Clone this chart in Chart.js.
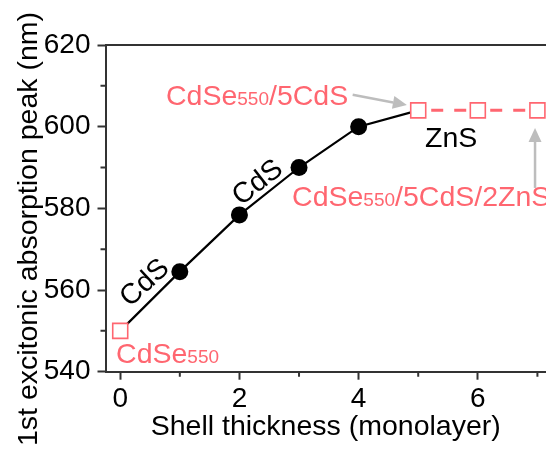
<!DOCTYPE html>
<html lang="en">
<head>
    <meta charset="UTF-8">
    <title>Absorption peak vs shell thickness</title>
    <style>
        body {
            margin: 0;
            overflow: hidden;
            background: #fff;
        }
        #wrap {
            width: 546px;
            height: 450px;
        }
    </style>
</head>
<body>
<div id="wrap"><canvas id="chart" width="546" height="450"></canvas></div>
<script src="https://cdn.jsdelivr.net/npm/chart.js@4"></script>
<script>
    // shell thickness (monolayers) and 1st excitonic absorption peak (nm)
    const shellML = [0, 1, 2, 3, 4, 5, 6, 7];
    const peakNm = [550, 564.5, 578.4, 590, 600, 604, 604, 604];
    const shellType = ['core', 'CdS', 'CdS', 'CdS', 'CdS', 'CdS', 'ZnS', 'ZnS'];
    const openMarker = [true, false, false, false, false, true, true, true];

    const xMajor = [0, 2, 4, 6];
    const xMinor = [1, 3, 5, 7];
    const yMajor = [540, 560, 580, 600, 620];
    const yMinor = [550, 570, 590, 610];

    const RED = '#ff6670';
    const AXIS = '#333';
    const GREY = '#bdbdbd';
    const FAMILY = '"Liberation Sans", Arial, sans-serif';

    // sample names: anchor (left, baseline) in data units; second part is the small "550"
    const sampleLabels = [
        {x: -0.07, y: 542.1, parts: ['CdSe', '550', '']},
        {x: 0.768, y: 605.4, parts: ['CdSe', '550', '/5CdS']},
        {x: 2.883, y: 580.6, parts: ['CdSe', '550', '/5CdS/2ZnS']}
    ];
    // shell material labels along the curve
    const shellLabels = [
        {x: 0.416, y: 561.7, text: 'CdS', angle: -43},
        {x: 2.31, y: 586.2, text: 'CdS', angle: -38},
        {x: 5.114, y: 595.1, text: 'ZnS', angle: 0, left: true}
    ];
    const arrows = [
        {from: [3.90, 607.8], to: [4.81, 605.3]},
        {from: [6.96, 585.0], to: [6.96, 599.7]}
    ];

    function arrow(ctx, x0, y0, x1, y1) {
        const ang = Math.atan2(y1 - y0, x1 - x0);
        const head = 14, half = 6.5;
        const bx = x1 - head * Math.cos(ang), by = y1 - head * Math.sin(ang);
        ctx.beginPath();
        ctx.moveTo(x0, y0);
        ctx.lineTo(bx, by);
        ctx.stroke();
        ctx.beginPath();
        ctx.moveTo(x1, y1);
        ctx.lineTo(bx + half * Math.sin(ang), by - half * Math.cos(ang));
        ctx.lineTo(bx - half * Math.sin(ang), by + half * Math.cos(ang));
        ctx.closePath();
        ctx.fill();
    }

    const decorations = {
        id: 'decorations',
        afterDraw(chart) {
            const {ctx, chartArea: a, scales: {x, y}} = chart;
            ctx.save();

            // minor ticks
            ctx.strokeStyle = AXIS;
            ctx.lineWidth = 2;
            ctx.beginPath();
            xMinor.forEach(v => {
                const px = x.getPixelForValue(v);
                ctx.moveTo(px, a.bottom);
                ctx.lineTo(px, a.bottom + 5);
            });
            yMinor.forEach(v => {
                const py = y.getPixelForValue(v);
                ctx.moveTo(a.left, py);
                ctx.lineTo(a.left - 5, py);
            });
            ctx.stroke();

            // arrows
            ctx.strokeStyle = GREY;
            ctx.fillStyle = GREY;
            ctx.lineWidth = 2.5;
            arrows.forEach(ar => arrow(ctx,
                x.getPixelForValue(ar.from[0]), y.getPixelForValue(ar.from[1]),
                x.getPixelForValue(ar.to[0]), y.getPixelForValue(ar.to[1])));

            // sample names with small "550"
            ctx.fillStyle = RED;
            ctx.textBaseline = 'alphabetic';
            ctx.textAlign = 'left';
            sampleLabels.forEach(l => {
                let cx = x.getPixelForValue(l.x);
                const cy = y.getPixelForValue(l.y);
                l.parts.forEach((t, i) => {
                    ctx.font = (i === 1 ? 19 : 28.5) + 'px ' + FAMILY;
                    ctx.fillText(t, cx, cy);
                    cx += ctx.measureText(t).width;
                });
            });

            // shell labels
            ctx.fillStyle = '#000';
            ctx.font = '28.5px ' + FAMILY;
            shellLabels.forEach(l => {
                ctx.save();
                ctx.translate(x.getPixelForValue(l.x), y.getPixelForValue(l.y));
                ctx.rotate(l.angle * Math.PI / 180);
                ctx.textAlign = l.left ? 'left' : 'center';
                ctx.textBaseline = l.left ? 'alphabetic' : 'middle';
                ctx.fillText(l.text, 0, 0);
                ctx.restore();
            });

            // y axis title
            ctx.save();
            ctx.translate(37, 229);
            ctx.rotate(-Math.PI / 2);
            ctx.textAlign = 'center';
            ctx.textBaseline = 'alphabetic';
            ctx.fillText('1st excitonic absorption peak (nm)', 0, 0);
            ctx.restore();

            ctx.restore();
        }
    };

    const tickFont = {family: FAMILY, size: 28};

    new Chart(document.getElementById('chart'), {
        type: 'scatter',
        data: {
            datasets: [{
                data: shellML.map((v, i) => ({x: v, y: peakNm[i]})),
                showLine: true,
                tension: 0,
                borderColor: '#000',
                borderWidth: 2.2,
                borderDashOffset: 46,
                segment: {
                    borderColor: c => shellType[c.p1DataIndex] === 'ZnS' ? RED : undefined,
                    borderWidth: c => shellType[c.p1DataIndex] === 'ZnS' ? 3 : undefined,
                    borderDash: c => shellType[c.p1DataIndex] === 'ZnS' ? [12, 11, 12, 24] : undefined
                },
                pointStyle: openMarker.map(o => o ? 'rect' : 'circle'),
                pointRadius: openMarker.map(o => o ? 10.6 : 8.5),
                pointBackgroundColor: openMarker.map(o => o ? '#fff' : '#000'),
                pointBorderColor: openMarker.map(o => o ? RED : '#000'),
                pointBorderWidth: openMarker.map(o => o ? 1.6 : 0)
            }]
        },
        options: {
            responsive: false,
            animation: false,
            events: [],
            devicePixelRatio: 1,
            layout: {autoPadding: false, padding: {top: 45, left: 0, right: 0, bottom: 0}},
            plugins: {
                legend: {display: false},
                tooltip: {enabled: false}
            },
            scales: {
                x: {
                    type: 'linear',
                    min: -0.247,
                    max: 7.144,
                    afterBuildTicks: s => { s.ticks = xMajor.map(v => ({value: v})); },
                    afterFit: s => { s.height = 78.3; },
                    grid: {drawOnChartArea: false, tickLength: 8, tickWidth: 2, tickColor: AXIS},
                    border: {color: AXIS, width: 2},
                    ticks: {font: tickFont, color: '#000', padding: 3, maxRotation: 0},
                    title: {
                        display: true,
                        text: 'Shell thickness (monolayer)',
                        font: {family: FAMILY, size: 28.5},
                        color: '#000',
                        padding: {top: 0, bottom: 6}
                    }
                },
                xTop: {
                    type: 'linear',
                    position: 'top',
                    min: -0.247,
                    max: 7.144,
                    afterFit: s => { s.height = 0; },
                    grid: {drawOnChartArea: false, drawTicks: false},
                    border: {color: AXIS, width: 2},
                    ticks: {display: false}
                },
                y: {
                    type: 'linear',
                    min: 540,
                    max: 620,
                    afterBuildTicks: s => { s.ticks = yMajor.map(v => ({value: v})); },
                    afterFit: s => { s.width = 105.5; },
                    grid: {drawOnChartArea: false, tickLength: 8, tickWidth: 2, tickColor: AXIS},
                    border: {color: AXIS, width: 2},
                    ticks: {font: tickFont, color: '#000', padding: 7}
                }
            }
        },
        plugins: [decorations]
    });
</script>
</body>
</html>
